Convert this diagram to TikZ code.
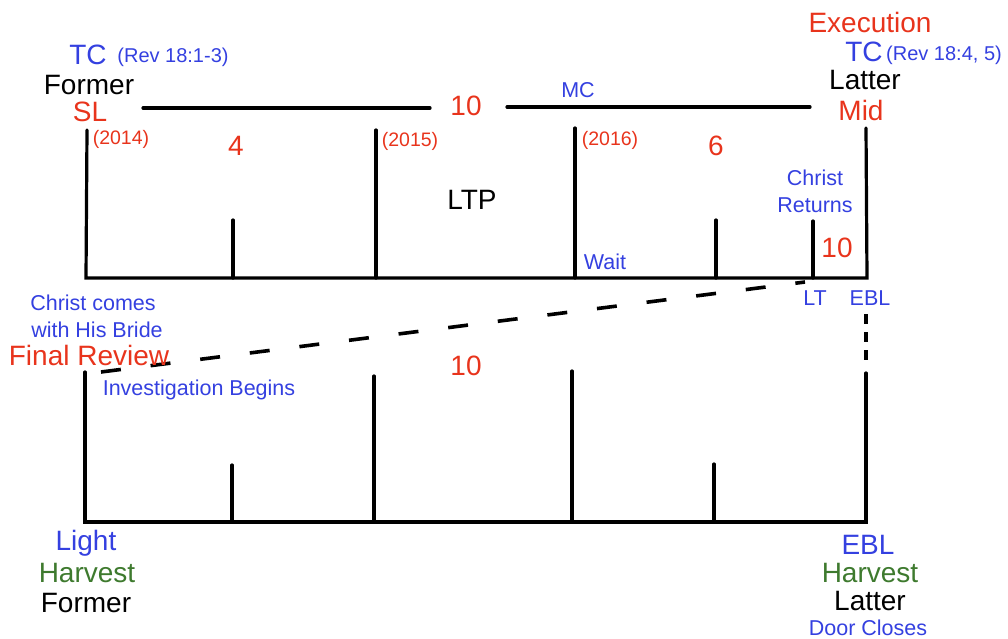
\documentclass[tikz,border=0pt]{standalone}
\usepackage{fontspec}
\setmainfont{Liberation Sans}
\definecolor{myblue}{RGB}{52,64,224}
\definecolor{myred}{RGB}{232,52,28}
\definecolor{mygreen}{RGB}{62,122,46}
\begin{document}
\begin{tikzpicture}[x=1pt,y=-1pt,
  ln/.style={line width=3.2pt,line cap=round},
  lbl/.style={inner sep=0pt,anchor=center},
  big/.style={lbl,font=\fontsize{28}{30}\selectfont},
  small/.style={lbl,font=\fontsize{21.5}{24}\selectfont},
  rev/.style={lbl,font=\fontsize{20}{22}\selectfont,text=myblue},
  yr/.style={lbl,font=\fontsize{19.5}{22}\selectfont,text=myred},
  bl/.style={text=myblue}, rd/.style={text=myred}, gr/.style={text=mygreen}, bk/.style={text=black}]
\useasboundingbox (0,0) rectangle (1008,639);

% ---------- top timeline ----------
\coordinate (tL) at (86,278);
\coordinate (tR) at (867,278);
\draw[ln] (87,130) -- (tL) -- (tR) -- (866,128);
\coordinate (t1) at (233,220); \draw[ln] (t1) -- (233,278);
\coordinate (t2) at (376,130); \draw[ln] (t2) -- (376,278);
\coordinate (t3) at (575,128); \draw[ln] (t3) -- (575,278);
\coordinate (t4) at (716,220); \draw[ln] (t4) -- (716,278);
\coordinate (t5) at (813,221); \draw[ln] (t5) -- (813,278);

% top bar
\coordinate (b1) at (143,108); \coordinate (b2) at (430,108);
\coordinate (b3) at (507,107); \coordinate (b4) at (810,107);
\draw[ln] (b1) -- (b2);
\draw[ln] (b3) -- (b4);

% ---------- bottom timeline ----------
\coordinate (bL) at (85,522);
\coordinate (bR) at (866,522);
\draw[ln] (85,372) -- (bL) -- (bR) -- (866,373);
\coordinate (u1) at (232,465); \draw[ln] (u1) -- (232,522);
\coordinate (u2) at (374,376); \draw[ln] (u2) -- (374,522);
\coordinate (u3) at (572,371); \draw[ln] (u3) -- (572,522);
\coordinate (u4) at (714,464); \draw[ln] (u4) -- (714,522);

% dashed connectors
\coordinate (dA) at (101,372);
\coordinate (dB) at (805,282);
\draw[line width=3.6pt,dash pattern=on 20pt off 30pt] (dA) -- (dB);
\coordinate (eA) at (866,314);
\coordinate (eB) at (866,366);
\draw[line width=3.2pt,dash pattern=on 10pt off 8pt] (eA) -- (eB);

% ---------- labels top-left ----------
\node[big,bl] (tcl) at (88,55) {TC};
\node[rev] (revl) at (173,57) {(Rev 18:1-3)};
\node[big,bk] (forl) at (89,85) {Former};
\node[big,rd] (sl) at (90,112) {SL};
\node[yr] (y14) at (121,139) {(2014)};
\node[big,rd] (n4) at (236,146) {4};
\node[yr] (y15) at (410,141) {(2015)};
\node[big,rd] (n10a) at (466,106) {10};
\node[small,bl] (mc) at (578,90) {MC};
\node[yr] (y16) at (610,140) {(2016)};
\node[big,rd] (n6) at (716,146) {6};
\node[big,bk] (ltp) at (472,200) {LTP};
\node[small,bl] (wait) at (605,262) {Wait};
\node[small,bl] (cr1) at (815,178) {Christ};
\node[small,bl] (cr2) at (815,205) {Returns};
\node[big,rd] (n10b) at (837,248) {10};

% ---------- labels top-right ----------
\node[big,rd] (exe) at (870,22) {Execution};
\node[big,bl] (tcr) at (864,52) {TC};
\node[rev] (revr) at (944,55) {(Rev 18:4, 5)};
\node[big,bk] (latr) at (865,80) {Latter};
\node[big,rd] (mid) at (861,110) {Mid};

% ---------- middle ----------
\node[small,bl] (lt) at (815,298) {LT};
\node[small,bl] (ebl1) at (870,298) {EBL};
\node[small,bl] (cc1) at (93,303) {Christ comes};
\node[small,bl] (cc2) at (97,330) {with His Bride};
\node[big,rd] (fr) at (89,355) {Final Review};
\node[small,bl] (inv) at (199,390) {Investigation Begins};
\node[big,rd] (n10c) at (466,366) {10};

% ---------- bottom labels ----------
\node[big,bl] (light) at (86,543) {Light};
\node[big,gr] (harv1) at (87,573) {Harvest};
\node[big,bk] (form2) at (86,603) {Former};
\node[big,bl] (ebl2) at (868,545) {EBL};
\node[big,gr] (harv2) at (870,573) {Harvest};
\node[big,bk] (lat2) at (870,601) {Latter};
\node[small,bl] (door) at (868,628) {Door Closes};
\end{tikzpicture}
\end{document}
